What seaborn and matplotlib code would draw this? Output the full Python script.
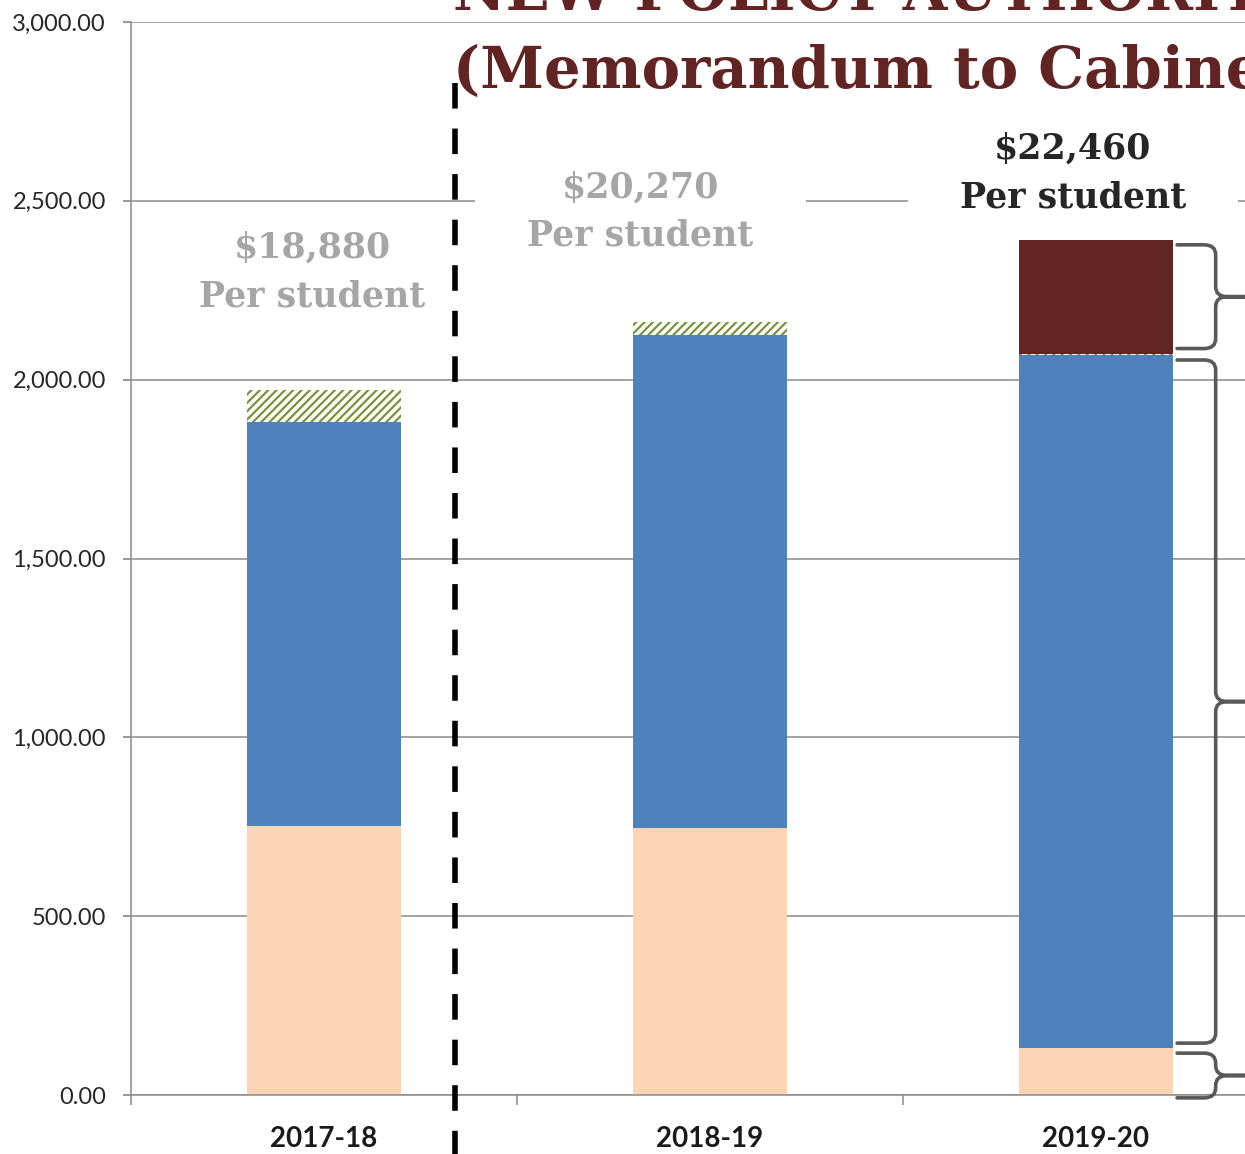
import numpy as np
import pandas as pd
import seaborn as sns
import matplotlib.pyplot as plt
from matplotlib.path import Path
from matplotlib.patches import PathPatch

# данные
years = ["2017-18", "2018-19", "2019-20"]
base_funding = [752, 746, 131]        # персиковый
core_funding = [1129, 1379, 1938]     # синий
one_off = [90, 36, 4]                 # штриховка
new_authority = [0, 0, 318]           # бордовый
per_student = ["$18,880", "$20,270", "$22,460"]

# раскладка подписей
label_dx = [-0.03, -0.18, -0.06]
label_y = [2300, 2470, 2578]
label_colors = ["#a6a6a6", "#a6a6a6", "#262626"]

grid_c = "#8a8a8a"

sns.set_theme(style="white")
plt.rcParams["font.family"] = ["Lato", "DejaVu Sans"]
plt.rcParams["hatch.linewidth"] = 1.6

fig = plt.figure(figsize=(12.45, 11.54), dpi=100)
ax = fig.add_axes([131 / 1245, 59 / 1154, 1114 / 1245, 1073 / 1154])

layers = [
    (base_funding, dict(color="#fcd5b5")),
    (core_funding, dict(color="#4f81bd")),
    (one_off, dict(color="white", edgecolor="#77933c", hatch="////")),
    (new_authority, dict(color="#632523")),
]
bottom = np.zeros(len(years))
tops = []
for vals, style in layers:
    sns.barplot(x=years, y=vals, bottom=bottom, width=0.4, saturation=1,
                errorbar=None, linewidth=0, zorder=2, ax=ax, **style)
    tops.append(bottom.copy())
    bottom = bottom + np.array(vals)
tops.append(bottom.copy())

ax.set_xticks(np.arange(-0.5, 2.4, 1), minor=True)
ax.set_xlim(-0.5, 2.386)
ax.set_ylim(0, 3000)
ax.set_yticks(np.arange(0, 3001, 500))
ax.yaxis.set_major_formatter(plt.FuncFormatter(lambda v, p: f"{v:,.2f}"))
ax.set_xlabel("")
ax.set_ylabel("")
ax.set_axisbelow(True)
ax.grid(axis="y", color=grid_c, linewidth=1.1)
ax.grid(axis="x", visible=False)
for s in ["top", "right"]:
    ax.spines[s].set_visible(False)
for s in ["left", "bottom"]:
    ax.spines[s].set_color(grid_c)
    ax.spines[s].set_linewidth(1.1)

ax.tick_params(axis="y", left=True, length=6, color=grid_c, pad=12,
               labelsize=17, labelcolor="#262626")
ax.tick_params(axis="x", which="major", length=0, pad=22,
               labelsize=20, labelcolor="#1a1a1a")
for t in ax.get_xticklabels():
    t.set_fontweight("bold")
ax.tick_params(axis="x", which="minor", bottom=True, length=7, color=grid_c, width=1.1)


def wide_box(x0, y0, width, height, mutation_size):
    # белая подложка, шире по горизонтали (разрывает линию сетки)
    px, py = 1.5 * mutation_size, 0.1 * mutation_size
    x0, y0 = x0 - px, y0 - py
    x1, y1 = x0 + width + 2 * px, y0 + height + 2 * py
    return Path([(x0, y0), (x1, y0), (x1, y1), (x0, y1), (x0, y0)], closed=True)


for i, txt in enumerate(per_student):
    ax.text(i + label_dx[i], label_y[i], f"{txt}\nPer student", ha="center", va="center",
            family="DejaVu Serif", fontweight="bold", fontsize=25, color=label_colors[i],
            linespacing=1.55, zorder=1,
            bbox=dict(boxstyle=wide_box, facecolor="white", edgecolor="none"))

# пунктирная граница между фактом и прогнозом
ax.plot([0.339, 0.339], [2830, -400], color="black", linewidth=4,
        linestyle=(0, (4.6, 3.6)), clip_on=False, zorder=3)


def brace(ax, x0, y_top, y_bot):
    xv, xt = x0 + 0.1, x0 + 0.2
    rx, ry = 0.03, 28
    ym = (y_top + y_bot) / 2
    verts = [(x0, y_top), (xv - rx, y_top), (xv, y_top), (xv, y_top - ry),
             (xv, ym + ry), (xv, ym), (xv + rx, ym), (xt, ym),
             (xt, ym), (xv + rx, ym), (xv, ym), (xv, ym - ry),
             (xv, y_bot + ry), (xv, y_bot), (xv - rx, y_bot), (x0, y_bot)]
    codes = [Path.MOVETO, Path.LINETO, Path.CURVE3, Path.CURVE3,
             Path.LINETO, Path.CURVE3, Path.CURVE3, Path.LINETO,
             Path.MOVETO, Path.LINETO, Path.CURVE3, Path.CURVE3,
             Path.LINETO, Path.CURVE3, Path.CURVE3, Path.LINETO]
    ax.add_patch(PathPatch(Path(verts, codes), facecolor="none", edgecolor="#595959",
                           linewidth=2.6, clip_on=False, zorder=3, capstyle="round"))


edge = 2 + 0.2 + 0.01
inset = 14
brace(ax, edge, tops[4][2] - inset, tops[3][2] + inset)
brace(ax, edge, tops[2][2] - inset, tops[1][2] + inset)
brace(ax, edge, tops[1][2] - inset, tops[0][2] - 8)

# заголовок (обрезан, как на слайде)
fig.text(453 / 1245, 1 - 10 / 1154, "NEW POLICY AUTHORITY", family="DejaVu Serif",
         fontweight="bold", fontsize=41.5, color="#622323", va="baseline", ha="left")
fig.text(453 / 1245, 1 - 88 / 1154, "(Memorandum to Cabinet)", family="DejaVu Serif",
         fontweight="bold", fontsize=41.5, color="#622323", va="baseline", ha="left")

fig.savefig("out.png", dpi=100)
